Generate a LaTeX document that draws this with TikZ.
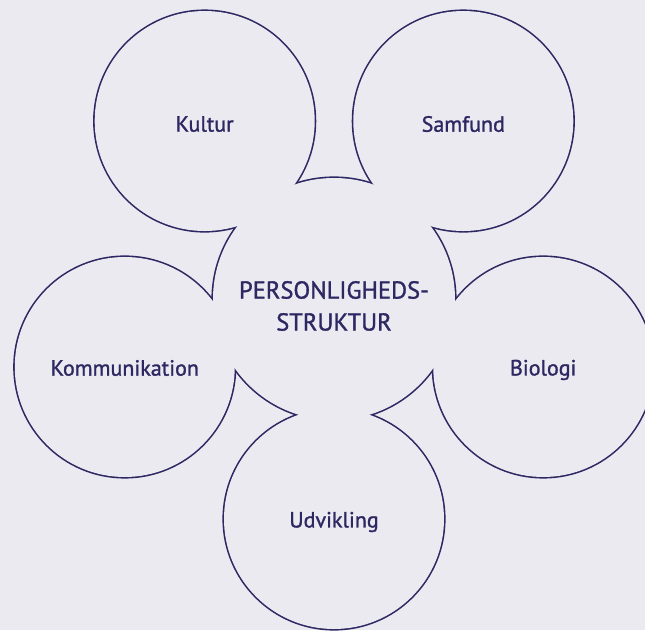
\documentclass[tikz,border=0pt]{standalone}
\usepackage{fontspec}
\setmainfont{PT Sans}[FakeBold=1.3]
\usepackage{tikz}
\usetikzlibrary{
  positioning,
  calc
}
\definecolor{ink}{RGB}{46,40,98}
\definecolor{paper}{RGB}{235,234,241}

\begin{document}
\begin{tikzpicture}[x=1pt, y=1pt,
  rim/.style={draw=ink, line width=3.2pt},
  tag/.style={text=ink, font=\fontsize{22}{32}\selectfont, align=center, inner sep=0pt},
  hub/.style={tag, font=\fontsize{24.5}{32}\selectfont}]
  \fill[paper] (-334,-331) rectangle (311,299);
  \useasboundingbox (-334,-331) rectangle (311,299);
  % outline of the flower: draw every circle, then blank their insides
  \foreach \a in {54,126,198,270,342}
    \draw[rim] (\a:220) circle[radius=110];
  \draw[rim] (0,0) circle[radius=121];
  \foreach \a in {54,126,198,270,342}
    \fill[paper] (\a:220) circle[radius=110];
  \fill[paper] (0,0) circle[radius=121];

  \node[hub] (core) at (0,-7) {PERSONLIGHEDS-\\STRUKTUR};
  \node[tag] (kultur) at ($(126:220)+(0,-3)$) {Kultur};
  \node[tag] (samfund) at ($(54:220)+(0,-3)$) {Samfund};
  \node[tag] (kommunikation) at ($(198:220)+(0,-1)$) {Kommunikation};
  \node[tag] (biologi) at ($(342:220)+(0,-3)$) {Biologi};
  \node[tag] (udvikling) at ($(270:220)+(0,-3)$) {Udvikling};
\end{tikzpicture}
\end{document}
